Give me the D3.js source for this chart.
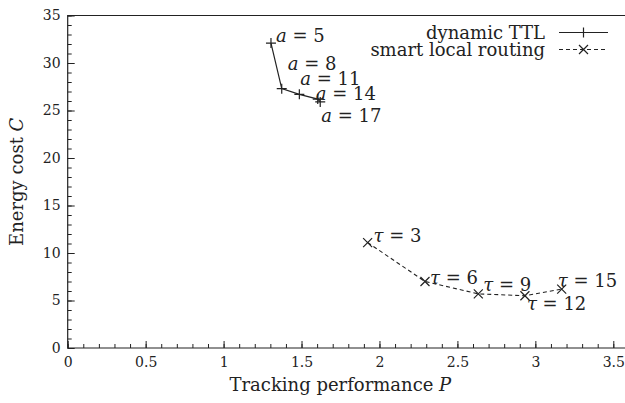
<!DOCTYPE html>
<meta charset="utf-8">
<html>
<head>
<style>
  body { margin: 0; background: #fff; }
  text { font-family: "DejaVu Serif", "Liberation Serif", serif; fill: #222; }
  .axis path, .axis line { stroke: #222; }
</style>
</head>
<body>
<script src="https://d3js.org/d3.v7.min.js"></script>
<script>

// dynamic TTL series
var ttlA = [5, 8, 11, 14, 17];
var ttlP = [1.304, 1.373, 1.486, 1.604, 1.620];
var ttlC = [32.1, 27.3, 26.7, 26.2, 25.9];

// smart local routing series
var slrTau = [3, 6, 9, 12, 15];
var slrP = [1.924, 2.292, 2.634, 2.933, 3.169];
var slrC = [11.1, 7.0, 5.7, 5.5, 6.2];

var xTicks = [0, 0.5, 1, 1.5, 2, 2.5, 3, 3.5];
var yTicks = [0, 5, 10, 15, 20, 25, 30, 35];

// label nudges (px) so they sit like in the original
var ttlNudge = [[5, -8], [6, -26], [1, -16], [-2, -6], [1, 13]];
var slrNudge = [[6, -8], [5, -5], [5, -10], [2, 7], [-4, -9]];

var W = 625, H = 403;
var mL = 67.7, mT = 15.5, mB = 348, mR = 625;
var fs = "18px";

var svg = d3.select("body").append("svg")
  .attr("width", W)
  .attr("height", H);

var x = d3.scaleLinear().domain([0, 3.5]).range([mL, 613.3]);
var y = d3.scaleLinear().domain([0, 35]).range([mB, mT]);

// minor ticks
svg.append("g")
  .attr("class", "axis")
  .attr("transform", "translate(0," + mB + ")")
  .call(d3.axisTop(x).tickValues(d3.range(0, 3.6, 0.1)).tickSize(4).tickFormat(""))
  .select(".domain").remove();
svg.append("g")
  .attr("class", "axis")
  .attr("transform", "translate(" + mL + ",0)")
  .call(d3.axisRight(y).tickValues(d3.range(0, 36, 1)).tickSize(4).tickFormat(""))
  .select(".domain").remove();

// major ticks + labels
var xAxis = svg.append("g")
  .attr("class", "axis")
  .attr("transform", "translate(0," + mB + ")")
  .call(d3.axisBottom(x).tickValues(xTicks).tickSize(0).tickPadding(9).tickFormat(d3.format("")));
xAxis.select(".domain").remove();
xAxis.selectAll("text").style("font-size", "14px").attr("fill", "#222");
svg.append("g")
  .attr("class", "axis")
  .attr("transform", "translate(0," + mB + ")")
  .call(d3.axisTop(x).tickValues(xTicks).tickSize(7).tickFormat(""))
  .select(".domain").remove();

var yAxis = svg.append("g")
  .attr("class", "axis")
  .attr("transform", "translate(" + mL + ",0)")
  .call(d3.axisLeft(y).tickValues(yTicks).tickSize(0).tickPadding(7));
yAxis.select(".domain").remove();
yAxis.selectAll("text").style("font-size", "14px").attr("fill", "#222");
svg.append("g")
  .attr("class", "axis")
  .attr("transform", "translate(" + mL + ",0)")
  .call(d3.axisRight(y).tickValues(yTicks).tickSize(7).tickFormat(""))
  .select(".domain").remove();

// frame
svg.append("path")
  .attr("d", "M" + mR + "," + mT + "H" + mL + "V" + mB + "H" + mR)
  .attr("fill", "none")
  .attr("stroke", "#222")
  .attr("stroke-width", 1.2);

// axis titles
var xt = svg.append("text")
  .attr("x", (mL + mR) / 2 - 6)
  .attr("y", 391)
  .attr("text-anchor", "middle")
  .style("font-size", fs);
xt.append("tspan").text("Tracking performance ");
xt.append("tspan").style("font-style", "italic").text("P");

var yt = svg.append("text")
  .attr("transform", "translate(23," + ((mT + mB) / 2) + ") rotate(-90)")
  .attr("text-anchor", "middle")
  .style("font-size", fs);
yt.append("tspan").text("Energy cost ");
yt.append("tspan").style("font-style", "italic").text("C");

var line = d3.line().x(function(d) { return x(d[0]); }).y(function(d) { return y(d[1]); });

var ttl = ttlP.map(function(p, i) { return [p, ttlC[i], ttlA[i]]; });
var slr = slrP.map(function(p, i) { return [p, slrC[i], slrTau[i]]; });

svg.append("path")
  .datum(ttl)
  .attr("d", line)
  .attr("fill", "none")
  .attr("stroke", "#222")
  .attr("stroke-width", 1.2);

svg.append("path")
  .datum(slr)
  .attr("d", line)
  .attr("fill", "none")
  .attr("stroke", "#222")
  .attr("stroke-width", 1.1)
  .attr("stroke-dasharray", "4,3");

function plus(g, cx, cy, s) {
  g.append("path")
    .attr("d", "M" + (cx - s) + "," + cy + "H" + (cx + s) + "M" + cx + "," + (cy - s) + "V" + (cy + s))
    .attr("stroke", "#222").attr("stroke-width", 1.2).attr("fill", "none");
}
function cross(g, cx, cy, s) {
  g.append("path")
    .attr("d", "M" + (cx - s) + "," + (cy - s) + "L" + (cx + s) + "," + (cy + s) +
               "M" + (cx - s) + "," + (cy + s) + "L" + (cx + s) + "," + (cy - s))
    .attr("stroke", "#222").attr("stroke-width", 1.2).attr("fill", "none");
}

var marks = svg.append("g");
ttl.forEach(function(d) { plus(marks, x(d[0]), y(d[1]), 5); });
slr.forEach(function(d) { cross(marks, x(d[0]), y(d[1]), 4.5); });

function label(d, nudge, sym) {
  var t = svg.append("text")
    .attr("x", x(d[0]) + nudge[0])
    .attr("y", y(d[1]) + nudge[1])
    .attr("dominant-baseline", "central")
    .style("font-size", fs);
  t.append("tspan").style("font-style", "italic").text(sym);
  t.append("tspan").text(" = " + d[2]);
}
ttl.forEach(function(d, i) { label(d, ttlNudge[i], "a"); });
slr.forEach(function(d, i) { label(d, slrNudge[i], "τ"); });

// legend
var lg = svg.append("g");
var names = ["dynamic TTL", "smart local routing"];
names.forEach(function(n, i) {
  var yy = 32.5 + i * 17;
  lg.append("text")
    .attr("x", 545)
    .attr("y", yy)
    .attr("text-anchor", "end")
    .attr("dominant-baseline", "central")
    .style("font-size", fs)
    .text(n);
  var seg = lg.append("line")
    .attr("x1", 559).attr("x2", 608)
    .attr("y1", yy).attr("y2", yy)
    .attr("stroke", "#222")
    .attr("stroke-width", 1.2);
  if (i === 0) plus(lg, 583.5, yy, 5);
  else { seg.attr("stroke-dasharray", "4,3"); cross(lg, 583.5, yy, 4.5); }
});

</script>
</body>
</html>
